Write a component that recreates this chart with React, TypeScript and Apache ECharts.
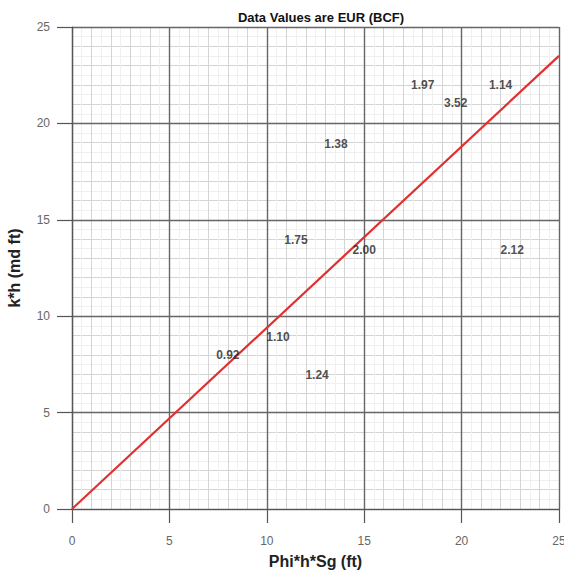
import React, { useEffect, useRef } from "react";
import * as echarts from "echarts";

const title = "Data Values are EUR (BCF)";
const xName = "Phi*h*Sg (ft)";
const yName = "k*h (md ft)";
const axisMin = 0;
const axisMax = 25;
const majorStep = 5;
const minorStep = 1;

// EUR labels: [phi*h*Sg, k*h, EUR]
const pointX = [18.0, 19.7, 22.0, 13.55, 11.5, 15.0, 22.6, 10.57, 8.0, 12.58];
const pointY = [22.0, 21.06, 22.0, 18.93, 13.95, 13.43, 13.43, 8.92, 7.99, 6.95];
const eurValues = ["1.97", "3.52", "1.14", "1.38", "1.75", "2.00", "2.12", "1.10", "0.92", "1.24"];

// trend line end points
const lineX = [0, 25];
const lineY = [0, 23.5];

export default function App() {
  const ref = useRef<HTMLDivElement>(null);
  useEffect(() => {
    document.body.style.margin = "0";
    const chart = echarts.init(ref.current!, null, { renderer: "svg" });
    const font = "'Liberation Sans', Arial, sans-serif";
    const baseAxis = {
      type: "value",
      min: axisMin,
      max: axisMax,
    };
    chart.setOption({
      animation: false,
      backgroundColor: "#ffffff",
      title: {
        text: title,
        left: 316,
        textAlign: "center",
        top: 6,
        textStyle: { fontFamily: font, fontSize: 13, fontWeight: "bold", color: "#111" },
      },
      grid: { left: 72, right: 5, top: 27, bottom: 62, containLabel: false, outerBoundsMode: "none" },
      xAxis: [
        {
          ...baseAxis,
          interval: majorStep,
          z: 3,
          name: xName,
          nameLocation: "middle",
          nameGap: 44,
          nameTextStyle: { fontFamily: font, fontSize: 16, fontWeight: "bold", color: "#222" },
          axisLine: { show: true, lineStyle: { color: "#555", width: 1.2 } },
          axisTick: { show: true, length: 14, lineStyle: { color: "#555", width: 1.2 } },
          axisLabel: { fontFamily: font, fontSize: 12, color: "#666", margin: 26 },
          splitLine: { show: true, lineStyle: { color: "#666", width: 1.4 } },
        },
        {
          ...baseAxis,
          interval: minorStep,
          z: 1,
          axisLine: { show: false },
          axisTick: { show: false },
          axisLabel: { show: false },
          splitLine: { show: true, lineStyle: { color: "#d4d4d4", width: 1 } },
          minorTick: { show: false, splitNumber: 2 },
          minorSplitLine: { show: true, lineStyle: { color: "#f0f0f0", width: 1 } },
        },
      ],
      yAxis: [
        {
          ...baseAxis,
          interval: majorStep,
          z: 3,
          name: yName,
          nameLocation: "middle",
          nameGap: 50,
          nameTextStyle: { fontFamily: font, fontSize: 16, fontWeight: "bold", color: "#222" },
          axisLine: { show: true, lineStyle: { color: "#555", width: 1.2 } },
          axisTick: { show: true, length: 15, lineStyle: { color: "#555", width: 1.2 } },
          axisLabel: { fontFamily: font, fontSize: 12, color: "#666", margin: 22 },
          splitLine: { show: true, lineStyle: { color: "#666", width: 1.4 } },
        },
        {
          ...baseAxis,
          interval: minorStep,
          z: 1,
          axisLine: { show: false },
          axisTick: { show: false },
          axisLabel: { show: false },
          splitLine: { show: true, lineStyle: { color: "#d4d4d4", width: 1 } },
          minorTick: { show: false, splitNumber: 2 },
          minorSplitLine: { show: true, lineStyle: { color: "#f0f0f0", width: 1 } },
        },
      ],
      series: [
        {
          type: "line",
          xAxisIndex: 0,
          yAxisIndex: 0,
          z: 5,
          data: lineX.map((x, i) => [x, lineY[i]]),
          symbol: "none",
          lineStyle: { color: "#e03030", width: 2.2 },
        },
        {
          type: "scatter",
          xAxisIndex: 0,
          yAxisIndex: 0,
          z: 6,
          symbolSize: 0,
          data: pointX.map((x, i) => ({ value: [x, pointY[i]], name: eurValues[i] })),
          label: {
            show: true,
            position: "inside",
            formatter: (p: any) => p.name,
            fontFamily: font,
            fontSize: 12,
            fontWeight: "bold",
            color: "#222",
          },
        },
      ],
    });
    return () => chart.dispose();
  }, []);
  return <div ref={ref} style={{ width: 564, height: 571 }} />;
}
